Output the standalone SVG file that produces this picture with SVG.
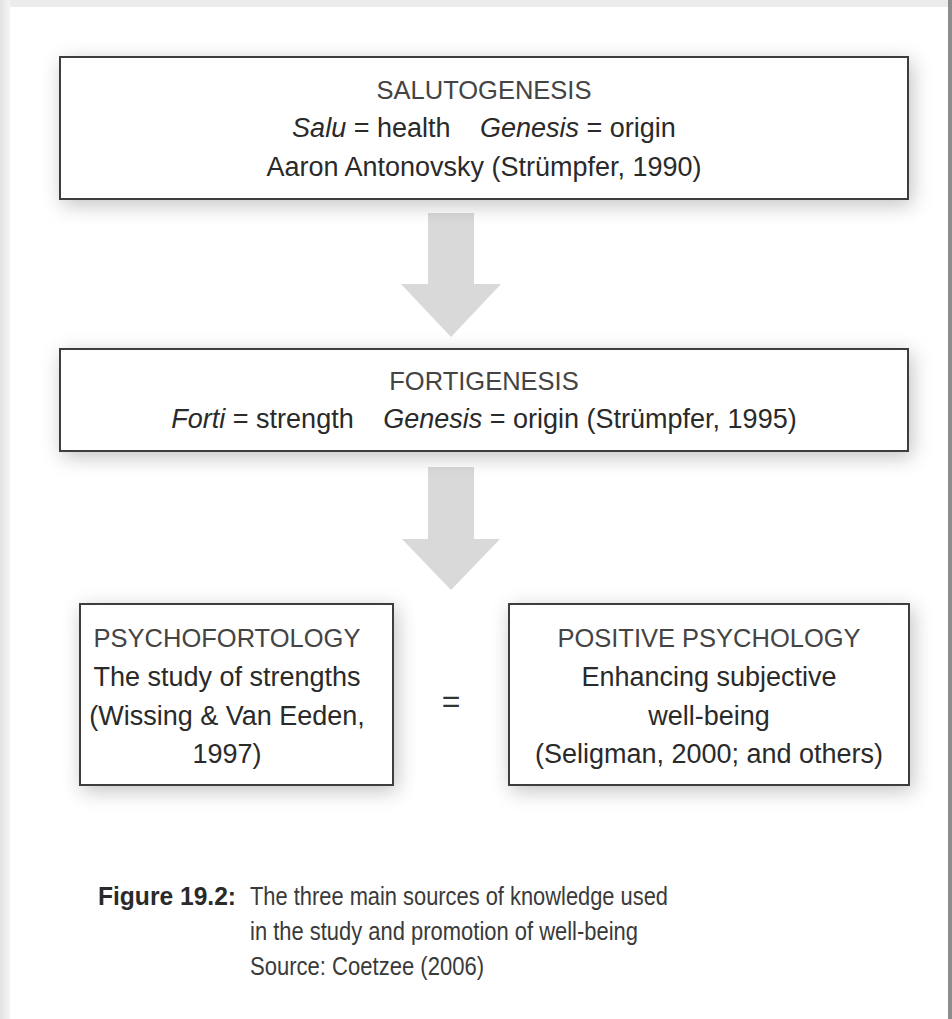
<svg xmlns="http://www.w3.org/2000/svg" width="952" height="1019" viewBox="0 0 952 1019">
  <defs>
    <filter id="soft" x="-10%" y="-30%" width="120%" height="170%">
      <feDropShadow dx="3" dy="5" stdDeviation="10" flood-color="#000" flood-opacity="0.24"/>
    </filter>
    <linearGradient id="leftEdge" x1="0" x2="1" y1="0" y2="0">
      <stop offset="0" stop-color="#e2e2e2"/>
      <stop offset="1" stop-color="#f5f5f5"/>
    </linearGradient>
    <style>
      .box { fill: #ffffff; stroke: #3c3c3c; stroke-width: 2; }
      .arrow { fill: #d9d9d9; }
      .title { font-family: "Liberation Sans", Arial, sans-serif; font-size: 25.5px; fill: #444444; text-anchor: middle; }
      .body { font-family: "Liberation Sans", Arial, sans-serif; font-size: 27px; fill: #2a2a2a; text-anchor: middle; }
      .cap { font-family: "Liberation Sans", Arial, sans-serif; font-size: 26px; fill: #3a3a3a; }
      .capb { font-family: "Liberation Sans", Arial, sans-serif; font-size: 25px; font-weight: bold; fill: #2a2a2a; }
      .it { font-style: italic; }
    </style>
  </defs>

  <!-- page and its edges -->
  <rect x="0" y="0" width="952" height="1019" fill="#ffffff"/>
  <rect x="0" y="0" width="952" height="7" fill="#ececec"/>
  <rect x="0" y="0" width="10" height="1019" fill="url(#leftEdge)"/>
  <rect x="948" y="0" width="4" height="1019" fill="#8c8c8c"/>

  <!-- connectors -->
  <g id="connectors">
    <polygon class="arrow" points="428,213 474,213 474,284 501,284 451,337 401,284 428,284"/>
    <polygon class="arrow" points="428,467 474,467 474,539 500,539 451,590 402,539 428,539"/>
    <text x="451" y="712" font-family="Liberation Sans, Arial, sans-serif" font-size="32" fill="#333" text-anchor="middle">=</text>
  </g>

  <!-- salutogenesis -->
  <g id="salutogenesis">
    <rect class="box" x="60" y="57" width="848" height="142" filter="url(#soft)"/>
    <text class="title" x="484" y="99">SALUTOGENESIS</text>
    <text class="body" x="484" y="137"><tspan class="it">Salu</tspan> = health <tspan class="it" dx="22">Genesis</tspan> = origin</text>
    <text class="body" x="484" y="176">Aaron Antonovsky (Strümpfer, 1990)</text>
  </g>

  <!-- fortigenesis -->
  <g id="fortigenesis">
    <rect class="box" x="60" y="349" width="848" height="102" filter="url(#soft)"/>
    <text class="title" x="484" y="390">FORTIGENESIS</text>
    <text class="body" x="484" y="428"><tspan class="it">Forti</tspan> = strength <tspan class="it" dx="22">Genesis</tspan> = origin (Strümpfer, 1995)</text>
  </g>

  <!-- psychofortology -->
  <g id="psychofortology">
    <rect class="box" x="80" y="604" width="313" height="181" filter="url(#soft)"/>
    <text class="title" x="227" y="647">PSYCHOFORTOLOGY</text>
    <text class="body" x="227" y="686">The study of strengths</text>
    <text class="body" x="227" y="725">(Wissing &amp; Van Eeden,</text>
    <text class="body" x="227" y="763">1997)</text>
  </g>

  <!-- positive psychology -->
  <g id="positive-psychology">
    <rect class="box" x="509" y="604" width="400" height="181" filter="url(#soft)"/>
    <text class="title" x="709" y="647">POSITIVE PSYCHOLOGY</text>
    <text class="body" x="709" y="686">Enhancing subjective</text>
    <text class="body" x="709" y="725">well-being</text>
    <text class="body" x="709" y="763">(Seligman, 2000; and others)</text>
  </g>

  <!-- caption: narrow setting for the running text -->
  <g id="caption">
    <text class="capb" x="98" y="905" textLength="138" lengthAdjust="spacingAndGlyphs">Figure 19.2:</text>
    <text class="cap" x="250" y="905" textLength="418" lengthAdjust="spacingAndGlyphs">The three main sources of knowledge used</text>
    <text class="cap" x="250" y="940" textLength="388" lengthAdjust="spacingAndGlyphs">in the study and promotion of well-being</text>
    <text class="cap" x="250" y="975" textLength="234" lengthAdjust="spacingAndGlyphs">Source: Coetzee (2006)</text>
  </g>
</svg>
